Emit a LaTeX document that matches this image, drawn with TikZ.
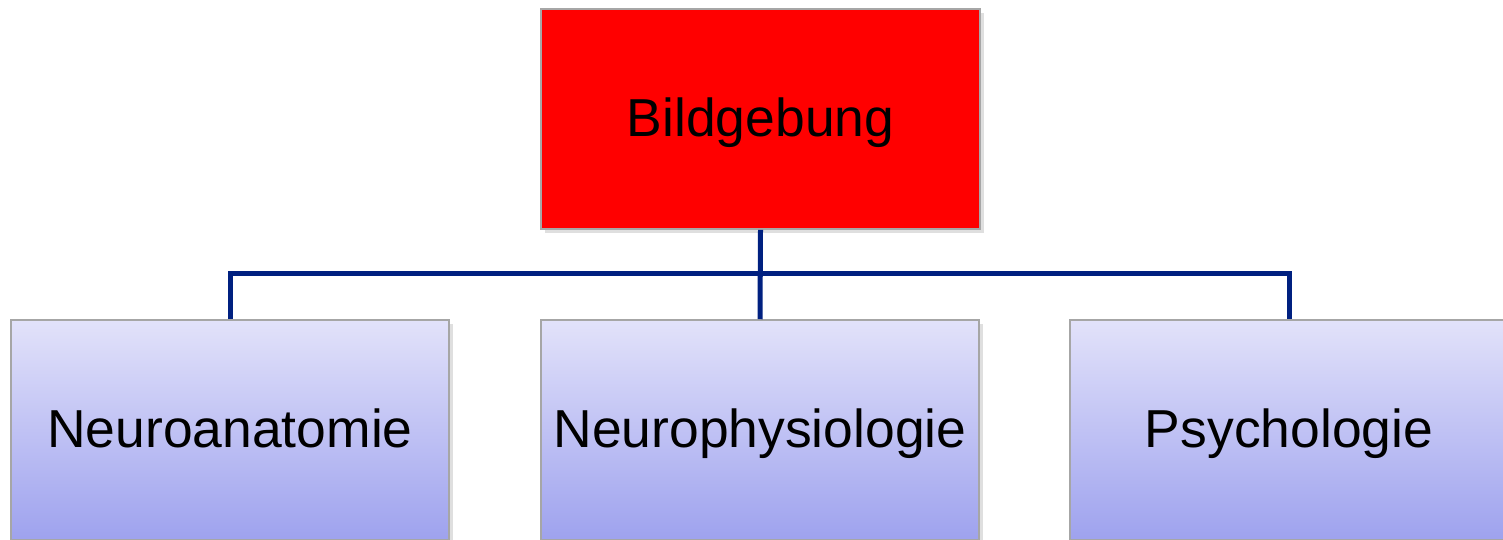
\documentclass[tikz,border=0pt]{standalone}
\usepackage{fontspec}
\setmainfont{Liberation Sans}
\usepackage{xcolor}
\usetikzlibrary{positioning,shadows}
\definecolor{linkblue}{RGB}{0,32,128}
\definecolor{boxtop}{RGB}{226,226,250}
\definecolor{boxbot}{RGB}{158,162,238}

\begin{document}
\begin{tikzpicture}[x=0.01cm,y=0.01cm,
  topbox/.style={draw=gray!70, fill=red, minimum width=4.39cm, minimum height=2.2cm,
    drop shadow={opacity=0.25, shadow xshift=0.04cm, shadow yshift=-0.04cm},
    font=\fontsize{15.2}{17}\selectfont, text height=1.2em, text depth=0.2em},
  subbox/.style={draw=gray!70, top color=boxtop, bottom color=boxbot,
    minimum width=4.38cm, minimum height=2.2cm,
    drop shadow={opacity=0.25, shadow xshift=0.04cm, shadow yshift=-0.04cm},
    font=\fontsize{15.2}{17}\selectfont, text height=1.2em, text depth=0.2em},
  link/.style={draw=linkblue, line width=0.05cm}]
\useasboundingbox (0,0) rectangle (1503,-539);

% Top box
\node[topbox] (bild) at (760.5,-119) {Bildgebung};

% Sub boxes
\node[subbox] (neuroana) at (230,-430) {Neuroanatomie};
\node[subbox] (neurophys) at (760,-430) {Neurophysiologie};
\node[subbox] (psych) at (1289,-430) {Psychologie};

% Connectors
\draw[link] (bild.south) -- (neurophys.north);
\draw[link] (neuroana.north) -- ++(0,46) -| (psych.north);
\end{tikzpicture}
\end{document}
